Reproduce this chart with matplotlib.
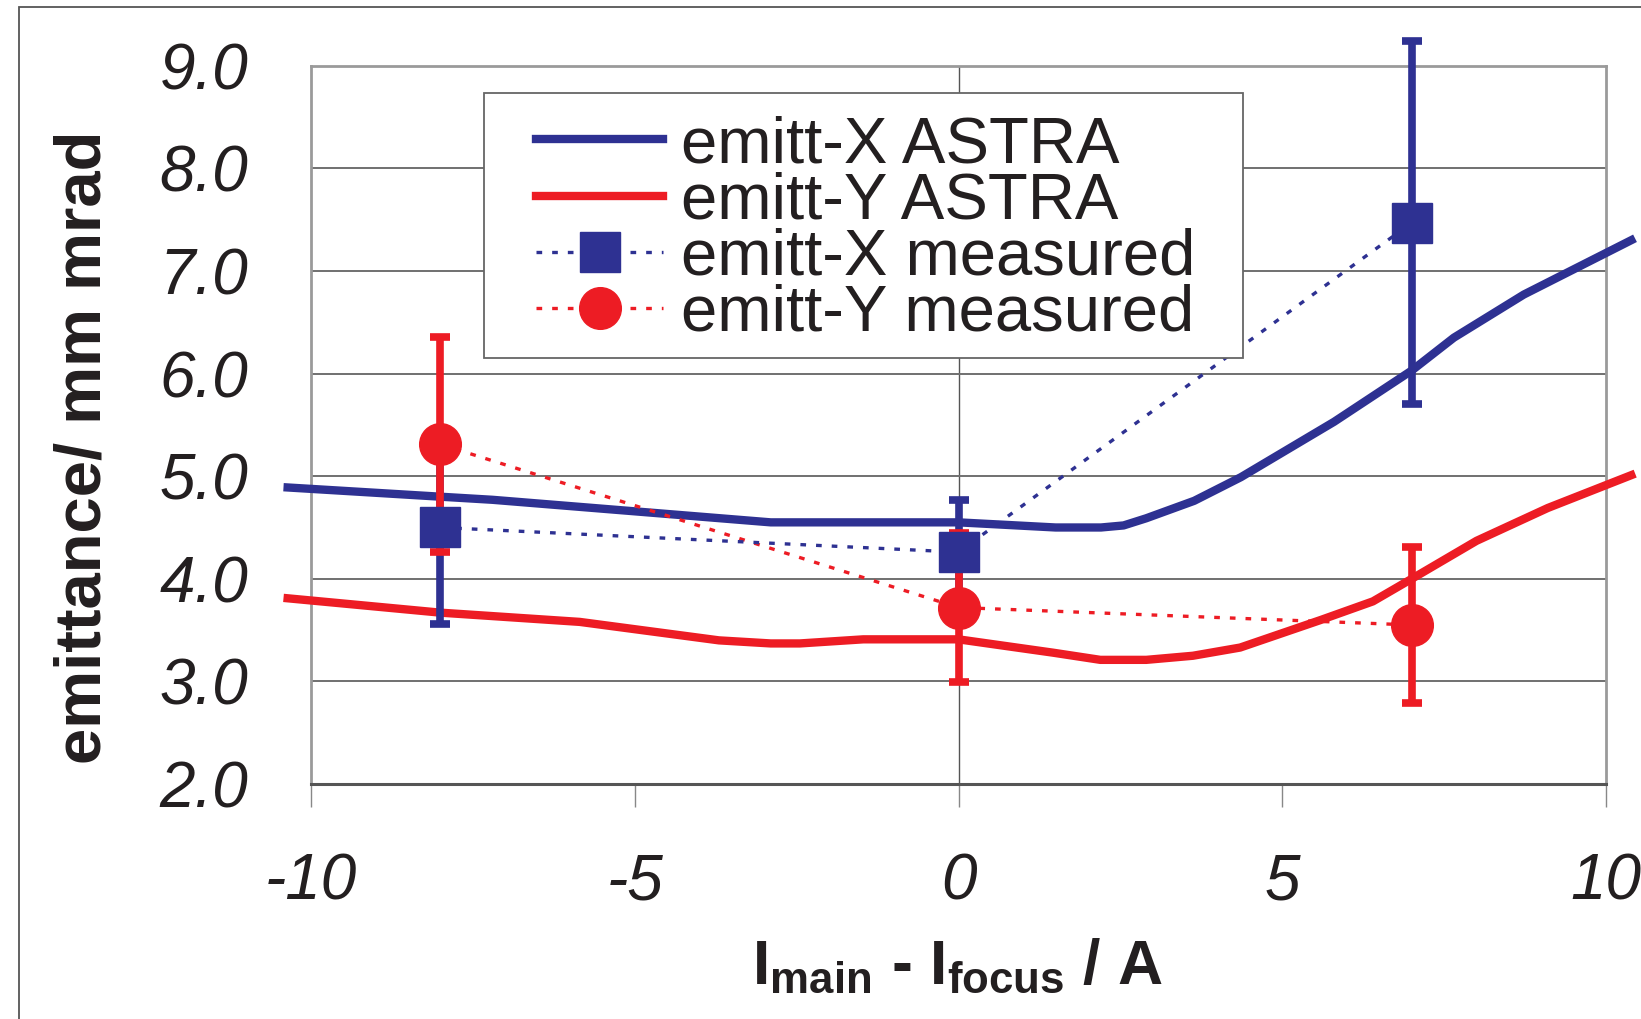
import matplotlib
matplotlib.use('Agg')
import matplotlib.pyplot as plt
from matplotlib.lines import Line2D
from matplotlib.patches import Rectangle

plt.rcParams['font.family'] = ['Liberation Sans', 'DejaVu Sans']
plt.rcParams['mathtext.fontset'] = 'custom'
plt.rcParams['mathtext.rm'] = 'Liberation Sans'
plt.rcParams['mathtext.it'] = 'Liberation Sans:italic'
plt.rcParams['mathtext.bf'] = 'Liberation Sans:bold'

BLUE = '#2E3192'
RED = '#ED1C24'
TXT = '#231F20'

# ASTRA simulation curves
astra_x_I = [-10.36, -8.0, -7.2, -2.9, 0.0, 1.5, 2.2, 2.55, 2.9, 3.64, 4.36, 5.8, 7.0, 7.65, 8.73, 10.39]
astra_x_em = [4.89, 4.80, 4.77, 4.55, 4.55, 4.50, 4.50, 4.52, 4.59, 4.76, 4.99, 5.53, 6.03, 6.35, 6.77, 7.30]

astra_y_I = [-10.36, -8.0, -5.85, -3.7, -2.9, -2.45, -1.47, 0.0, 1.46, 2.19, 2.9, 3.62, 4.35, 5.6, 6.4, 7.0, 8.0, 9.1, 10.39]
astra_y_em = [3.81, 3.67, 3.58, 3.40, 3.37, 3.37, 3.41, 3.41, 3.28, 3.21, 3.21, 3.25, 3.33, 3.60, 3.78, 4.00, 4.37, 4.69, 5.01]

# measurements
meas_I = [-8, 0, 7]
meas_x = [4.50, 4.26, 7.47]
meas_x_err = [0.94, 0.51, 1.77]
meas_y = [5.31, 3.72, 3.55]
meas_y_err = [1.05, 0.73, 0.76]

xticks = [-10, -5, 0, 5, 10]
yticks = [2.0, 3.0, 4.0, 5.0, 6.0, 7.0, 8.0, 9.0]
labels = ['emitt-X ASTRA', 'emitt-Y ASTRA', 'emitt-X measured', 'emitt-Y measured']

fig = plt.figure(figsize=(16.41, 10.19), dpi=100)
ax = fig.add_axes([0.1895, 0.2306, 0.7892, 0.7049])

# outer frame (cut off on the right and bottom)
fig.patches.append(Rectangle((19 / 1641, -0.2), 1.2, 1.2 - 7 / 1019,
                             transform=fig.transFigure, fill=False,
                             edgecolor='#555555', lw=1.3))

ax.set_xlim(-10, 10)
ax.set_ylim(2, 9)

ax.yaxis.grid(True, color='#707070', lw=1.4, zorder=0)
ax.axvline(0, color='#555555', lw=1.0, zorder=0.5)
ax.set_axisbelow(True)

for s in ['top', 'right', 'left']:
    ax.spines[s].set_color('#9a9a9a')
    ax.spines[s].set_linewidth(2)
ax.spines['bottom'].set_color('#555555')
ax.spines['bottom'].set_linewidth(2.2)

ax.plot(astra_x_I, astra_x_em, color=BLUE, lw=6, clip_on=False, zorder=3)
ax.plot(astra_y_I, astra_y_em, color=RED, lw=6, clip_on=False, zorder=3)

dots = (0, (1.7, 3.0))
ax.errorbar(meas_I, meas_x, yerr=meas_x_err, fmt='none', ecolor=BLUE,
            elinewidth=5.5, capsize=7, capthick=5.5, zorder=4, clip_on=False)
ax.errorbar(meas_I, meas_y, yerr=meas_y_err, fmt='none', ecolor=RED,
            elinewidth=5.5, capsize=7, capthick=5.5, zorder=5, clip_on=False)
ax.plot(meas_I, meas_y, color=RED, lw=2.4, ls=dots, zorder=5.5)
ax.plot(meas_I, meas_x, color=BLUE, lw=2.4, ls=dots, zorder=5.5)
ax.plot(meas_I, meas_y, 'o', color=RED, ms=30, zorder=6, clip_on=False)
ax.plot(meas_I, meas_x, 's', color=BLUE, ms=29, zorder=7, clip_on=False)

ax.set_xticks(xticks)
ax.set_xticklabels([str(t) for t in xticks], fontsize=46, style='italic', color=TXT)
ax.set_yticks(yticks)
ax.set_yticklabels(['%.1f' % t for t in yticks], fontsize=46, style='italic', color=TXT)
ax.tick_params(axis='x', direction='out', length=16.5, width=1, color='#888888', pad=33)
ax.tick_params(axis='y', length=0, pad=45)

fig.text(101 / 1641, 1 - 447 / 1019, 'emittance/ mm mrad', rotation=90,
         rotation_mode='anchor', ha='center', va='baseline',
         fontsize=47, fontweight='bold', color=TXT)
fig.text(958 / 1641, 1 - 984 / 1019,
         r'$\mathbf{I}_\mathbf{main}$ - $\mathbf{I}_\mathbf{focus}$ / A',
         ha='center', va='baseline', fontsize=45, fontweight='bold', color=TXT)

# legend box sits on top of the curves
ax.add_patch(Rectangle((0.1336, 0.593), 0.7197 - 0.1336, 0.962 - 0.593,
                       transform=ax.transAxes, facecolor='white',
                       edgecolor='#666666', lw=1.3, zorder=8, clip_on=False))
handles = [
    Line2D([], [], color=BLUE, lw=6),
    Line2D([], [], color=RED, lw=6),
    Line2D([], [], color=BLUE, lw=2.4, ls=dots, marker='s', ms=29),
    Line2D([], [], color=RED, lw=2.4, ls=dots, marker='o', ms=30),
]
leg = ax.legend(handles, labels, loc='upper left', bbox_to_anchor=(0.1737, 0.931),
                fontsize=47, frameon=False, handlelength=1.95, handletextpad=0.28,
                labelspacing=-0.06, borderpad=0, borderaxespad=0)
leg.set_zorder(9)
for t in leg.get_texts():
    t.set_color(TXT)

fig.savefig('out.png', dpi=100, facecolor='white')
